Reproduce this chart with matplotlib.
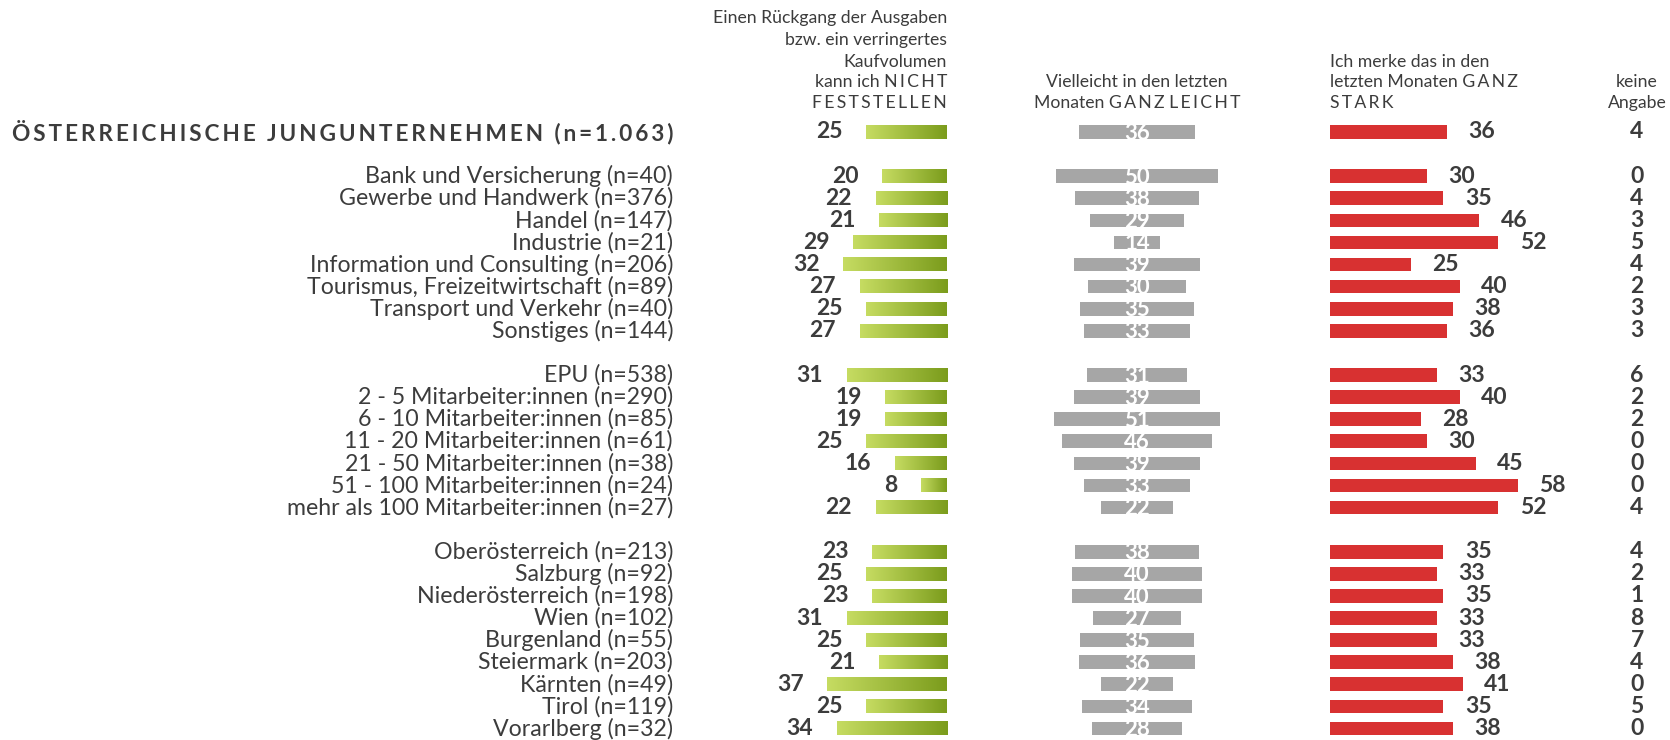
import numpy as np
import matplotlib
matplotlib.use("Agg")
import matplotlib.pyplot as plt
from matplotlib.colors import LinearSegmentedColormap

plt.rcParams['font.family'] = ['Lato', 'DejaVu Sans']

total_label = "ÖSTERREICHISCHE JUNGUNTERNEHMEN (n=1.063)"
total_vals = [25, 36, 36, 4]

branche = ["Bank und Versicherung (n=40)", "Gewerbe und Handwerk (n=376)", "Handel (n=147)",
           "Industrie (n=21)", "Information und Consulting (n=206)",
           "Tourismus, Freizeitwirtschaft (n=89)", "Transport und Verkehr (n=40)",
           "Sonstiges (n=144)"]
groesse = ["EPU (n=538)", "2 - 5 Mitarbeiter:innen (n=290)", "6 - 10 Mitarbeiter:innen (n=85)",
           "11 - 20 Mitarbeiter:innen (n=61)", "21 - 50 Mitarbeiter:innen (n=38)",
           "51 - 100 Mitarbeiter:innen (n=24)", "mehr als 100 Mitarbeiter:innen (n=27)"]
land = ["Oberösterreich (n=213)", "Salzburg (n=92)", "Niederösterreich (n=198)", "Wien (n=102)",
        "Burgenland (n=55)", "Steiermark (n=203)", "Kärnten (n=49)", "Tirol (n=119)",
        "Vorarlberg (n=32)"]

# columns: nicht feststellen, ganz leicht, ganz stark, keine angabe
nicht = [20, 22, 21, 29, 32, 27, 25, 27,
         31, 19, 19, 25, 16, 8, 22,
         23, 25, 23, 31, 25, 21, 37, 25, 34]
leicht = [50, 38, 29, 14, 39, 30, 35, 33,
          31, 39, 51, 46, 39, 33, 22,
          38, 40, 40, 27, 35, 36, 22, 34, 28]
stark = [30, 35, 46, 52, 25, 40, 38, 36,
         33, 40, 28, 30, 45, 58, 52,
         35, 33, 35, 33, 33, 38, 41, 35, 38]
keine = [0, 4, 3, 5, 4, 2, 3, 3,
         6, 2, 2, 0, 0, 0, 4,
         4, 2, 1, 8, 7, 4, 0, 5, 0]

# row slots, with one empty row between blocks
labels = [total_label] + branche + groesse + land
pos = [0]
slot = 2
for grp in (branche, groesse, land):
    for _ in grp:
        pos.append(slot)
        slot += 1
    slot += 1
pos = np.array(pos)
v_nicht = np.array([total_vals[0]] + nicht)
v_leicht = np.array([total_vals[1]] + leicht)
v_stark = np.array([total_vals[2]] + stark)
v_keine = [total_vals[3]] + keine

W, H = 1670, 740
fig = plt.figure(figsize=(W / 100, H / 100), dpi=100)

txt = "#3c3c3c"
green_cmap = LinearSegmentedColormap.from_list("g", ["#7b9c1c", "#c6dc62"])
gray = "#a6a6a6"
red = "#d83131"
bh = 0.62
ylim = (27.4, -0.6)
top_px, bot_px = 132 - 0.6 * 22.13, 728.5 + 0.4 * 22.13
ax_b, ax_h = (H - bot_px) / H, (bot_px - top_px) / H
unit = 3.24  # px per percent
num_fs = 16.5


def spaced(s):
    return "\u2009".join(s)


def add_ax(left_px, xlim):
    a = fig.add_axes([left_px / W, ax_b, abs(xlim[1] - xlim[0]) * unit / W, ax_h])
    a.set_xlim(*xlim)
    a.set_ylim(*ylim)
    a.axis("off")
    return a


# text axis (full width)
tax = fig.add_axes([0, ax_b, 1, ax_h])
tax.set_xlim(0, W)
tax.set_ylim(*ylim)
tax.axis("off")

# green column (grows leftwards)
gax = add_ax(947 - 60 * unit, (60, 0))
grad = np.linspace(0, 1, 256).reshape(1, -1)
for y, v in zip(pos, v_nicht):
    gax.imshow(grad, cmap=green_cmap, aspect="auto", extent=(0, v, y + bh / 2, y - bh / 2),
               interpolation="bicubic")
    gax.text(v + 7.3, y, str(v), ha="right", va="center", fontsize=num_fs, fontweight="bold",
             color=txt)
gax.set_xlim(60, 0)
gax.set_ylim(*ylim)

# gray column (centered)
cax = add_ax(1137 - 30 * unit, (-30, 30))
cax.barh(pos, v_leicht, left=-v_leicht / 2, height=bh, color=gray)
for y, v in zip(pos, v_leicht):
    cax.text(0, y + 0.05, str(v), ha="center", va="center", fontsize=16, fontweight="bold",
             color="white")

# red column
rax = add_ax(1330, (0, 60))
rax.barh(pos, v_stark, height=bh, color=red)
for y, v in zip(pos, v_stark):
    rax.text(v + 6.6, y, str(v), ha="left", va="center", fontsize=num_fs, fontweight="bold",
             color=txt)

# labels and keine Angabe
for i, (y, lab, k) in enumerate(zip(pos, labels, v_keine)):
    if i == 0:
        tax.text(673, y, spaced(lab), ha="right", va="center", fontsize=16.3, fontweight="bold",
                 color=txt)
    else:
        tax.text(673, y, lab, ha="right", va="center", fontsize=16.7, color=txt)
    tax.text(1637, y, str(k), ha="center", va="center", fontsize=num_fs, fontweight="bold",
             color=txt)

# headers
hs = 12.7


def header(x, ypx, s, ha):
    fig.text(x / W, 1 - ypx / H, s, ha=ha, va="center", fontsize=hs, color=txt)


for ypx, s in zip([18, 40, 62, 82, 103],
                  ["Einen Rückgang der Ausgaben", "bzw. ein verringertes", "Kaufvolumen",
                   "kann ich " + spaced("NICHT"), spaced("FESTSTELLEN")]):
    header(947, ypx, s, "right")
header(1137, 82, "Vielleicht in den letzten", "center")
header(1137, 103, "Monaten " + spaced("GANZ") + " " + spaced("LEICHT"), "center")
header(1330, 62, "Ich merke das in den", "left")
header(1330, 82, "letzten Monaten " + spaced("GANZ"), "left")
header(1330, 103, spaced("STARK"), "left")
header(1637, 82, "keine", "center")
header(1637, 103, "Angabe", "center")

fig.savefig("out.png", dpi=100)
